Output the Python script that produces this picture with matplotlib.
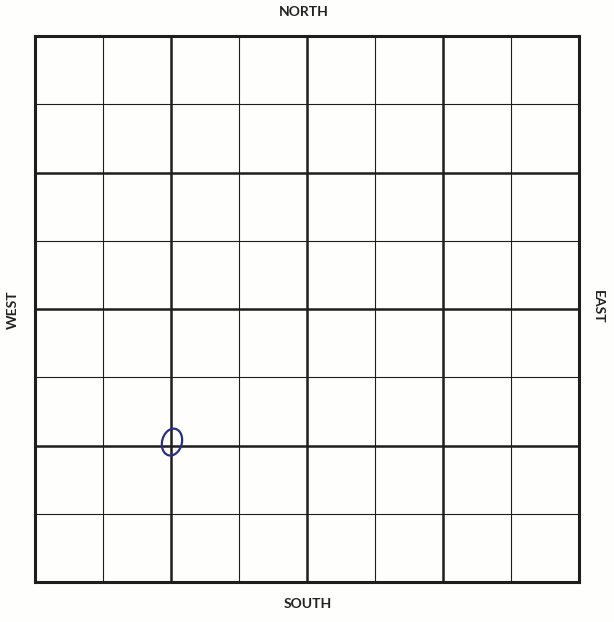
import matplotlib.pyplot as plt
from matplotlib.patches import Ellipse

# grid layout: 8x8 squares, heavy line every second square
grid_pos = [0, 1, 2, 3, 4, 5, 6, 7, 8]
major_pos = [0, 2, 4, 6, 8]
minor_pos = [p for p in grid_pos if p not in major_pos]

# compass labels (top, bottom, left, right)
directions = ["NORTH", "SOUTH", "WEST", "EAST"]

# hand-drawn circle marking a grid point
mark_x = [2.02]
mark_y = [2.05]

W, H = 614, 622
left, right, top, bottom = 34.5, 579, 36, 582

fig = plt.figure(figsize=(W / 100, H / 100), dpi=100)
fig.patch.set_facecolor("#fefefc")
ax = fig.add_axes([left / W, 1 - bottom / H, (right - left) / W, (bottom - top) / H])
ax.set_facecolor("#fefefc")
ax.set_xlim(grid_pos[0], grid_pos[-1])
ax.set_ylim(grid_pos[0], grid_pos[-1])
ax.set_xticks([]); ax.set_yticks([])

ink = "#1e1e1e"
ax.vlines(minor_pos, 0, 8, color=ink, lw=0.8)
ax.hlines(minor_pos, 0, 8, color=ink, lw=0.8)
ax.vlines(major_pos[1:-1], 0, 8, color=ink, lw=1.8)
ax.hlines(major_pos[1:-1], 0, 8, color=ink, lw=1.8)
for s in ax.spines.values():
    s.set_linewidth(2.2)
    s.set_color(ink)

for x, y in zip(mark_x, mark_y):
    ax.add_patch(Ellipse((x, y), 0.29, 0.40, angle=-15, fill=False,
                         edgecolor="#2b2d86", lw=1.6, zorder=5))

font = dict(family="Lato", weight="bold", size=10, color="#222222")
fig.text(304 / W, 1 - 12 / H, directions[0], ha="center", va="center", **font)
fig.text(308 / W, 1 - 604 / H, directions[1], ha="center", va="center", **font)
fig.text(13 / W, 1 - 310 / H, directions[2], ha="center", va="center", rotation=90, **font)
fig.text(598 / W, 1 - 307 / H, directions[3], ha="center", va="center", rotation=-90, **font)

fig.savefig("out.png", dpi=100, facecolor=fig.get_facecolor())
